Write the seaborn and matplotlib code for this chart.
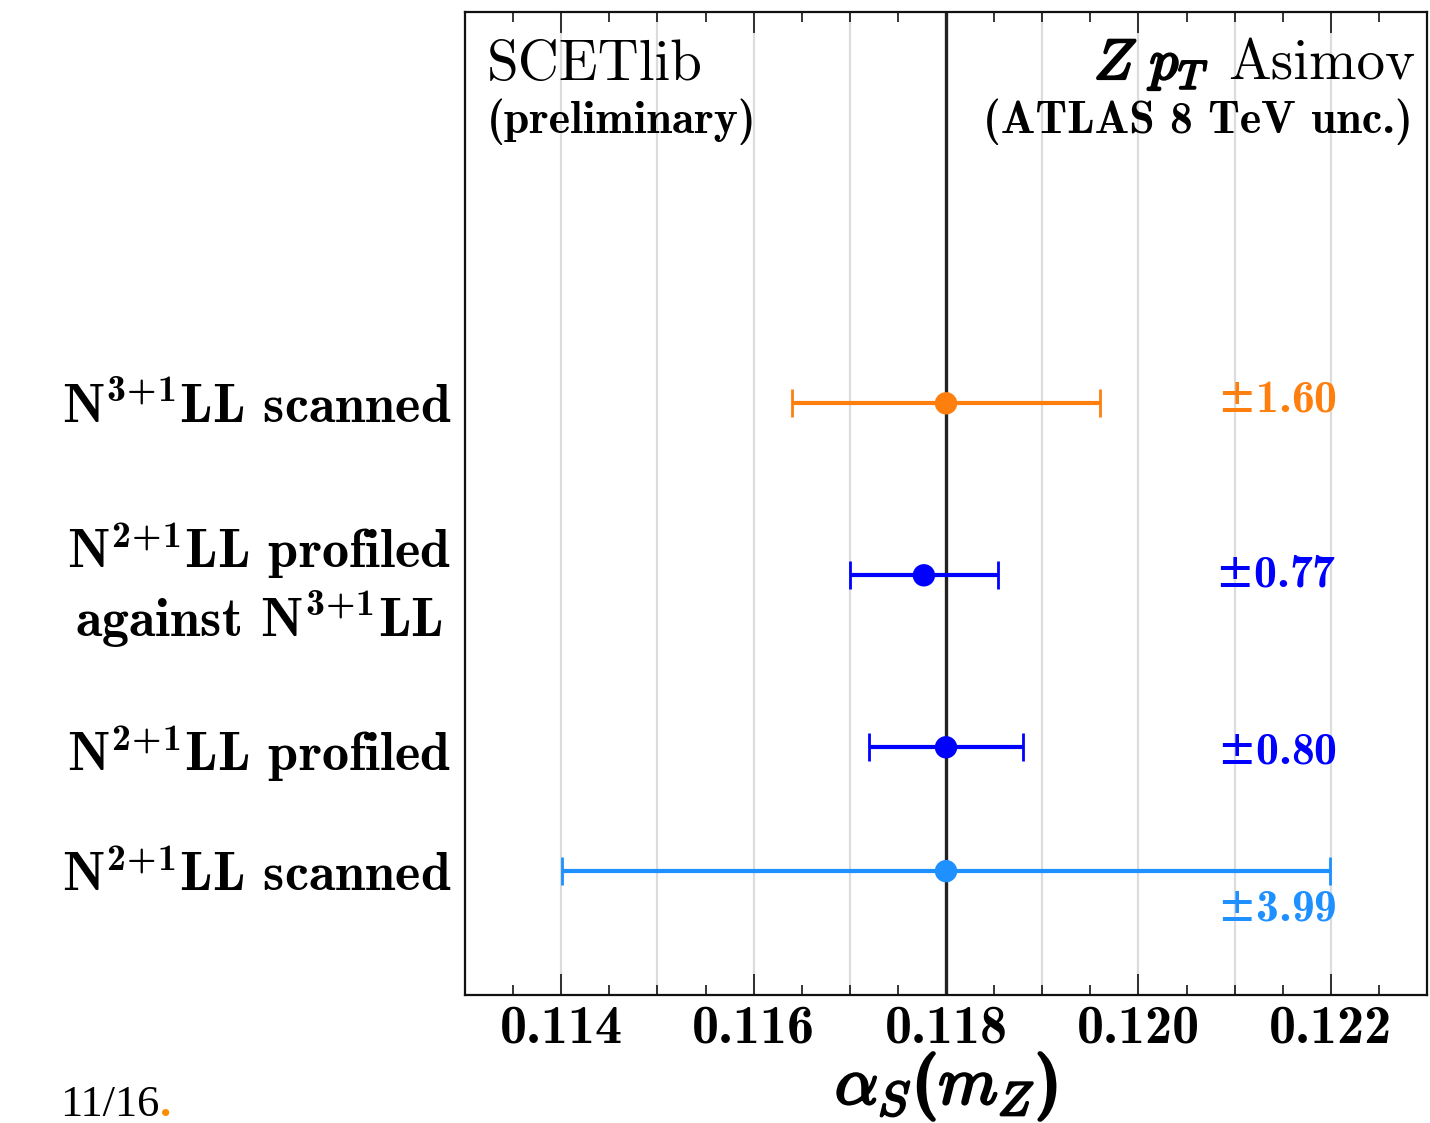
import matplotlib
matplotlib.use("Agg")
import matplotlib.pyplot as plt
import matplotlib.patheffects as pe
from matplotlib.ticker import MultipleLocator, FuncFormatter
import numpy as np
import pandas as pd
import seaborn as sns

# Fit results for alpha_s(m_Z)
labels = [
    r"N$^{3\!+\!1}$LL scanned",
    "N$^{2\\!+\\!1}$LL profiled\nagainst N$^{3\\!+\\!1}$LL",
    r"N$^{2\!+\!1}$LL profiled",
    r"N$^{2\!+\!1}$LL scanned",
]
central = [0.11800, 0.11777, 0.11800, 0.11800]
unc_e3 = [1.60, 0.77, 0.80, 3.99]          # symmetric uncertainty in units of 1e-3
colors = ["#ff7f0e", "#0000ff", "#0000ff", "#1e90ff"]
reference_value = 0.118

# vertical placement of the rows
row_y = [3.44, 2.44, 1.44, 0.72]
label_dy = [0.02, 0.0, -0.03, -0.22]

sns.set_style("ticks")
plt.rcParams["font.family"] = ["cmb10"]
plt.rcParams["mathtext.fontset"] = "custom"
plt.rcParams["mathtext.rm"] = "cmb10"
plt.rcParams["mathtext.bf"] = "cmb10"
plt.rcParams["mathtext.it"] = "cmmi10"
plt.rcParams["mathtext.sf"] = "DejaVu Serif"
plt.rcParams["mathtext.fallback"] = "cm"
plt.rcParams["axes.unicode_minus"] = False
plt.rcParams["text.color"] = "black"
plt.rcParams["axes.labelcolor"] = "black"
plt.rcParams["xtick.color"] = "black"
plt.rcParams["ytick.color"] = "black"

df = pd.DataFrame({"label": labels, "alpha_s": central, "unc": np.array(unc_e3) * 1e-3,
                   "y": row_y, "color": colors})

fig = plt.figure(figsize=(14.3, 11.23), dpi=100)
ax = fig.add_axes([0.3252, 0.1140, 0.6727, 0.8753])

# light vertical guide lines every 0.001
for g in np.arange(0.114, 0.1225, 0.001):
    if abs(g - reference_value) > 1e-9:
        ax.axvline(g, color="#dcdcdc", lw=1.6, zorder=0)
ax.axvline(reference_value, color="#222222", lw=2.4, zorder=1)

for _, r in df.iterrows():
    ax.errorbar(r["alpha_s"], r["y"], xerr=r["unc"], fmt="none", ecolor=r["color"],
                elinewidth=3.0, capsize=10, capthick=2.0, zorder=3)

sns.scatterplot(data=df, x="alpha_s", y="y", hue="label", palette=dict(zip(labels, colors)),
                s=260, edgecolor="none", legend=False, zorder=4, ax=ax)

for u, y, dy, col in zip(unc_e3, row_y, label_dy, colors):
    ax.text(0.12206, y + dy, r"$\mathsf{\pm}$" + f"{u:.2f}", color=col, fontsize=33,
            ha="right", va="center")

ax.set_xlim(0.113, 0.123)
ax.set_ylim(0, 5.715)
ax.xaxis.set_major_locator(MultipleLocator(0.002))
ax.xaxis.set_minor_locator(MultipleLocator(0.0005))
ax.xaxis.set_major_formatter(FuncFormatter(lambda v, p: "%.3f" % v))
ax.set_yticks(row_y)
ax.set_yticklabels(labels, fontsize=39, multialignment="center", linespacing=1.15)
ax.tick_params(axis="y", length=0, pad=10)
ax.tick_params(axis="x", which="major", direction="in", length=15, width=1.1,
               top=True, labelsize=39, pad=7)
ax.tick_params(axis="x", which="minor", direction="in", length=7, width=1.1, top=True)
for s in ax.spines.values():
    s.set_linewidth(1.6)
    s.set_color("#111111")

bold_stroke = [pe.withStroke(linewidth=1.8, foreground="black")]
ax.set_xlabel(r"$\alpha_S(m_Z)$", fontsize=49, labelpad=-3, path_effects=bold_stroke)
ax.set_ylabel("")

ax.text(0.0229, 0.931, "SCETlib", transform=ax.transAxes, family="cmr10", fontsize=41,
        ha="left", va="baseline")
ax.text(0.0229, 0.877, "(preliminary)", transform=ax.transAxes, fontsize=33,
        ha="left", va="baseline")
asimov = ax.text(0.9875, 0.931, "Asimov", transform=ax.transAxes, family="cmr10", fontsize=41,
                 ha="right", va="baseline")
ax.annotate(r"$Z\ p_T$", xy=(0, 0), xycoords=asimov, xytext=(-14, -1),
            textcoords="offset points", ha="right", va="bottom", fontsize=41,
            path_effects=bold_stroke)
ax.text(0.9855, 0.877, "(ATLAS 8 TeV unc.)", transform=ax.transAxes,
        fontsize=33, ha="right", va="baseline")

page = fig.text(0.042, 0.006, "11/16", family="Liberation Serif", fontsize=32,
                ha="left", va="baseline")
dot = fig.text(0, 0, ".", family="Liberation Serif", fontsize=32, color="#ff8c00",
               ha="left", va="baseline", fontweight="bold")
fig.canvas.draw()
bb = page.get_window_extent()
dot.set_transform(matplotlib.transforms.IdentityTransform())
dot.set_position((bb.x1 + 1, fig.bbox.height * 0.006))

fig.savefig("out.png", dpi=100)
